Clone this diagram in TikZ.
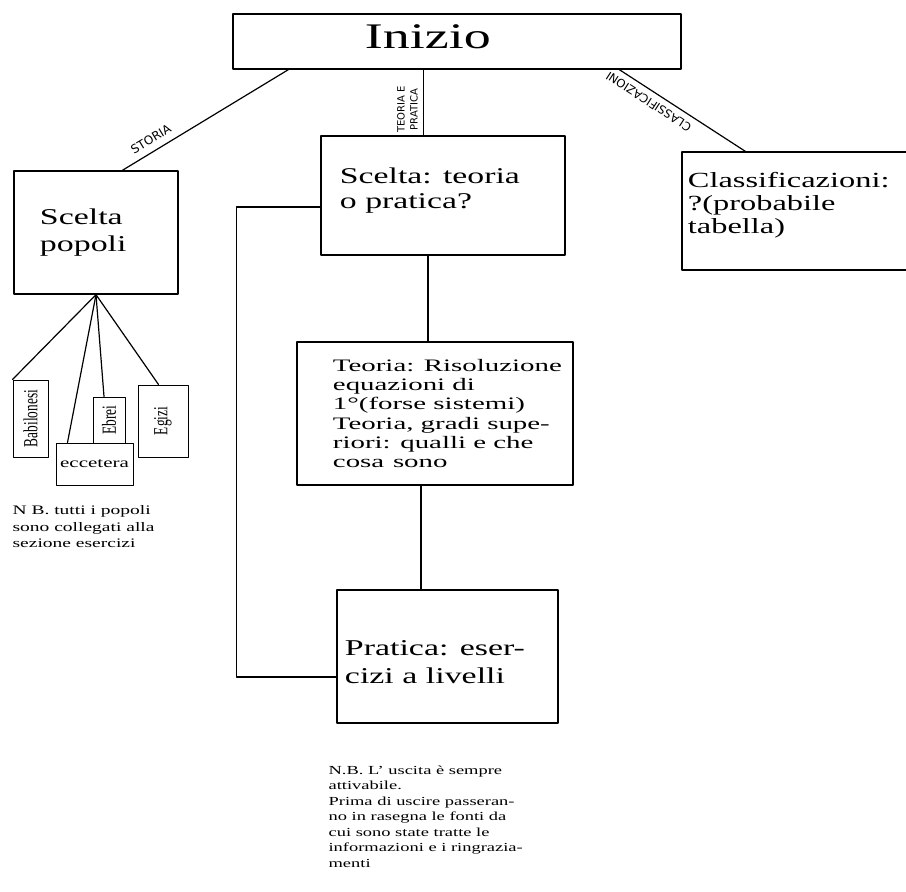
\documentclass[tikz,border=0pt]{standalone}
\usepackage{fontspec}
\usepackage{graphicx}
\setmainfont{Liberation Serif}[FakeStretch=1.5]
\newfontfamily\teofont{Liberation Serif}[FakeStretch=1.65]
\newfontfamily\strettofont{Liberation Serif}[FakeStretch=0.667]
\newfontfamily\manofont{DejaVu Sans}
\usetikzlibrary{positioning}
\begin{document}
\begin{tikzpicture}[x=1pt, y=-1pt, line width=1.2pt, line cap=round, line join=round,
  scatola/.style={draw, line width=1.3pt, inner sep=0pt},
  piccola/.style={draw, line width=1pt, inner sep=0pt},
  testo/.style={anchor=west, align=left, inner sep=0pt},
  mano/.style={font=\manofont\fontsize{10}{13}\selectfont, inner sep=1pt, align=center},
  nota/.style={anchor=north west, align=left, inner sep=0pt}]
  \useasboundingbox (0,0) rectangle (906,892);

  % le scatole grandi
  \node[scatola, minimum width=448pt, minimum height=55pt] (inizio) at (457,41.5) {};
  \node[testo, font=\fontsize{36}{40}\selectfont, right=132pt of inizio.west, yshift=5pt] (inizio-t) {Inizio};

  \node[scatola, minimum width=164pt, minimum height=123pt] (popoli) at (96,232.5) {};
  \node[testo, font=\fontsize{22.6}{27}\selectfont, right=26pt of popoli.west] (popoli-t) {Scelta\\popoli};

  \node[scatola, minimum width=244pt, minimum height=119pt] (scelta) at (443,195.5) {};
  \node[testo, font=\fontsize{22.5}{25}\selectfont, right=19pt of scelta.west, yshift=5pt] (scelta-t) {Scelta: teoria\\o pratica?};

  \node[scatola, minimum width=228pt, minimum height=118pt] (classi) at (796,211) {};
  \node[testo, font=\fontsize{21.6}{23}\selectfont, right=6pt of classi.west, yshift=6pt] (classi-t) {Classificazioni:\\?(probabile\\tabella)};

  \node[scatola, minimum width=276pt, minimum height=143pt] (teoria) at (435,413.5) {};
  \node[testo, font=\teofont\fontsize{17.5}{19.3}\selectfont, right=36pt of teoria.west] (teoria-t)
    {Teoria: Risoluzione\\equazioni di\\1°(forse sistemi)\\Teoria, gradi supe-\\riori: qualli e che\\cosa\enspace sono};

  \node[scatola, minimum width=221pt, minimum height=133pt] (pratica) at (447.5,656.5) {};
  \node[testo, font=\fontsize{22.6}{28}\selectfont, right=8pt of pratica.west, yshift=-6pt] (pratica-t) {Pratica: eser-\\cizi a livelli};

  % i popoli
  \node[piccola, minimum width=35pt, minimum height=77pt] (babil) at (30.5,418.5)
    {\rotatebox{90}{\strettofont\fontsize{20}{20}\selectfont Babilonesi}};
  \node[piccola, minimum width=32pt, minimum height=46pt] (ebrei) at (109,420)
    {\rotatebox{90}{\strettofont\fontsize{20}{20}\selectfont Ebrei}};
  \node[piccola, minimum width=77pt, minimum height=42pt, font=\fontsize{14}{16}\selectfont] (ecc) at (94.5,464) {eccetera};
  \node[piccola, minimum width=50pt, minimum height=72pt] (egizi) at (163,421)
    {\rotatebox{90}{\strettofont\fontsize{20}{20}\selectfont Egizi}};

  \draw (popoli.south) -- (babil.north west);
  \draw (popoli.south) -- ([xshift=12pt]ecc.north west);
  \draw (popoli.south) -- ([xshift=-5pt]ebrei.north);
  \draw (popoli.south) -- ([xshift=21pt]egizi.north west);

  % i rami da Inizio
  \draw ([xshift=56pt]inizio.south west) -- ([xshift=109pt]popoli.north west)
    node[mano, font=\manofont\fontsize{12}{13}\selectfont, sloped, pos=0.79, above=6pt] (storia) {STORIA};
  \draw ([xshift=103pt]scelta.north west) -- ([xshift=103pt]scelta.north west |- inizio.south)
    node[mano, sloped, pos=0.39, above=4pt] (teopra) {TEORIA E\\PRATICA};
  \draw ([xshift=64pt]classi.north west) -- ([xshift=387pt]inizio.south west)
    node[mano, font=\manofont\fontsize{11.5}{13}\selectfont, sloped, allow upside down, pos=0.72, above=5pt] (classlab) {CLASSIFICAZIONI};

  % teoria e pratica
  \draw ([xshift=-15pt]scelta.south) -- ([xshift=-15pt]scelta.south |- teoria.north);
  \draw ([xshift=-14pt]teoria.south) -- ([xshift=-14pt]teoria.south |- pratica.north);
  \draw ([yshift=-11.5pt]scelta.west) -- ++(-84,0) |- ([yshift=-20.5pt]pratica.west);

  % le note
  \node[nota, font=\fontsize{13}{16.5}\selectfont] (nb1) at (12,505)
    {N B. tutti i popoli\\sono collegati alla\\sezione esercizi};
  \node[nota, font=\fontsize{12.3}{15.5}\selectfont] (nb2) at (328,765)
    {N.B. L’ uscita è sempre\\attivabile.\\Prima di uscire passeran-\\no in rasegna le fonti da\\cui sono state tratte le\\informazioni e i ringrazia-\\menti};
\end{tikzpicture}
\end{document}
